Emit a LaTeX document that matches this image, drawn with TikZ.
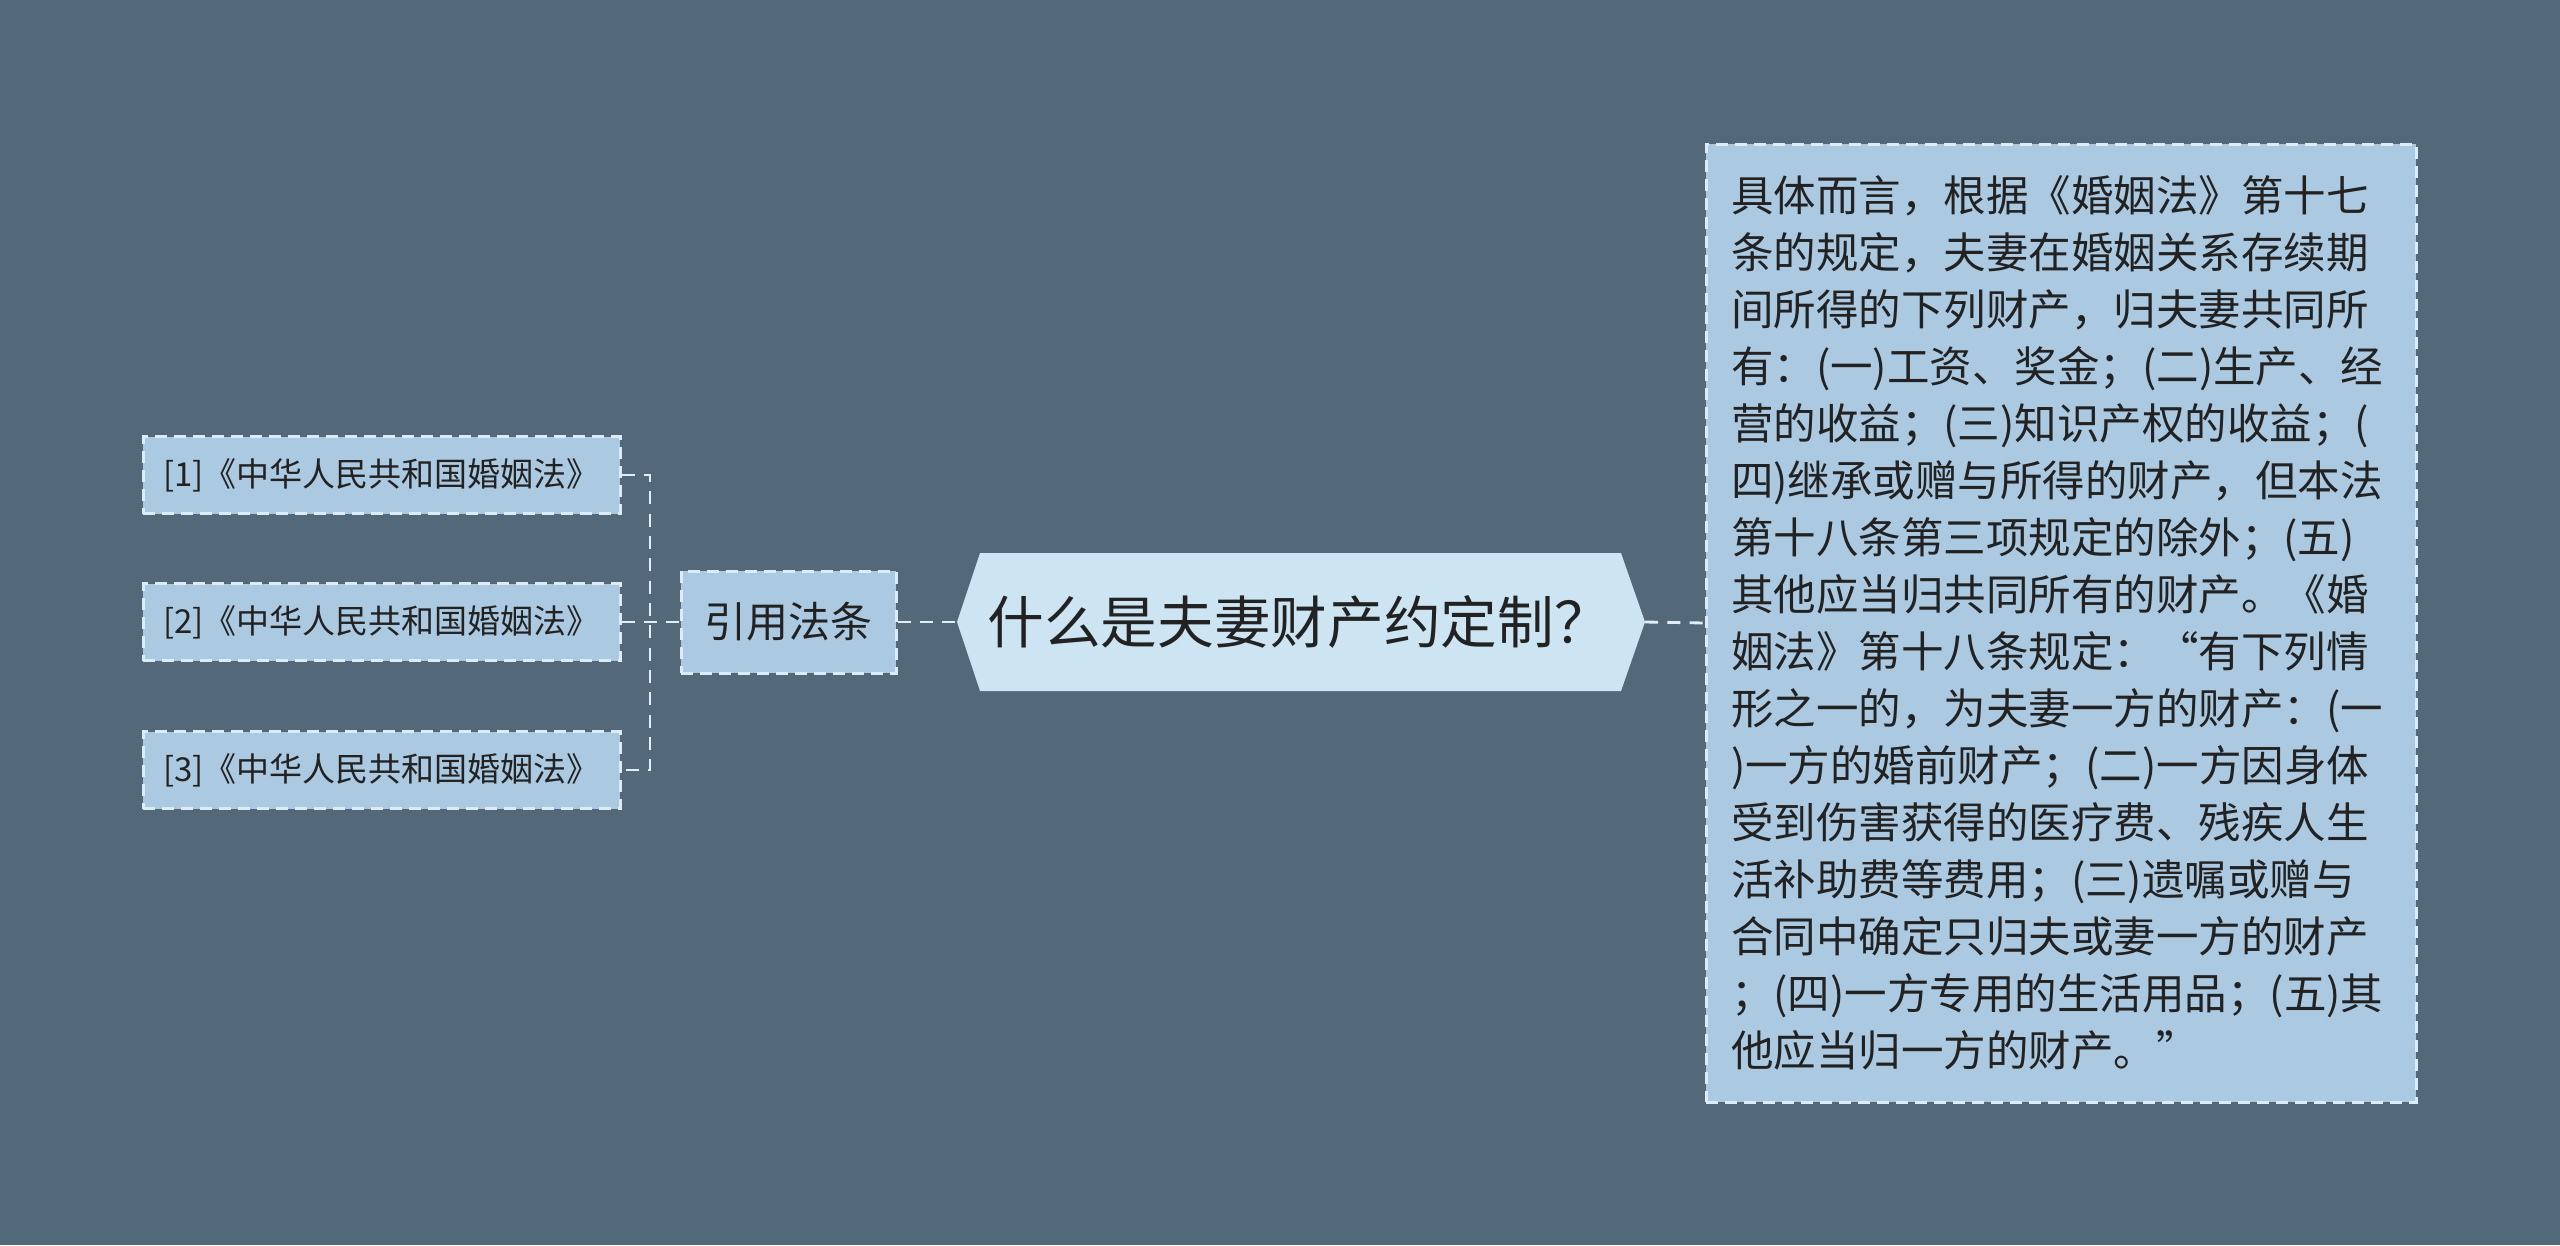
\documentclass[tikz,border=0pt]{standalone}
\usepackage{fontspec}
\newfontfamily\cjk{Noto Sans CJK SC}

\definecolor{bgcol}{RGB}{83,104,120}
\definecolor{leaffill}{RGB}{171,201,225}
\definecolor{topicfill}{RGB}{205,229,242}
\definecolor{edgecol}{RGB}{220,236,247}
\definecolor{linkcol}{RGB}{225,238,248}
\definecolor{inkcol}{RGB}{34,34,34}

\tikzset{every picture/.style={line width=0.9pt}}
\tikzset{
  leafbox/.style={draw=edgecol, fill=leaffill, dash pattern=on 3.6pt off 2.1pt, line width=0.9pt,
    minimum width=143.1pt, minimum height=23.1pt, inner sep=0pt, text=inkcol,
    font=\cjk\fontsize{9.9pt}{12pt}\selectfont},
  citebox/.style={leafbox, minimum width=64.5pt, minimum height=30.6pt,
    font=\cjk\fontsize{12.6pt}{15pt}\selectfont},
  topictext/.style={inner sep=0pt, minimum width=192.3pt, minimum height=41.4pt, text=inkcol,
    font=\cjk\fontsize{17pt}{20pt}\selectfont},
  detailbox/.style={leafbox, minimum width=213pt, minimum height=287.4pt, text width=198pt,
    inner xsep=7.5pt, align=left, font=\cjk\fontsize{12.75pt}{17.1pt}\selectfont},
  link/.style={draw=linkcol, line width=0.85pt, dash pattern=on 3.9pt off 2.8pt}
}

\begin{document}
\begin{tikzpicture}[x=0.3pt,y=0.3pt,yscale=-1,xscale=1]
%Shape: Background
\fill[bgcol] (0,0) rectangle (2560,1245);

%Shape: Hexagon (main topic)
\coordinate (topicL) at (957,622);
\coordinate (topicR) at (1645,622);
\fill[topicfill] (980,553) -- (1621,553) -- (topicR) -- (1621,691) -- (980,691) -- (topicL) -- cycle;
% Text Node
\node[topictext] (topic) at (1299,622) {什么是夫妻财产约定制？};

% Text Node
\node[citebox] (cite) at (788.5,622) {引用法条};

% Text Node
\node[leafbox] (leaf1) at (381.5,475) {[1]《中华人民共和国婚姻法》};
% Text Node
\node[leafbox] (leaf2) at (381.5,622) {[2]《中华人民共和国婚姻法》};
% Text Node
\node[leafbox] (leaf3) at (381.5,770) {[3]《中华人民共和国婚姻法》};

% Text Node
\node[detailbox] (detail) at (2061,623) {具体而言，根据《婚姻法》第十七\\
条的规定，夫妻在婚姻关系存续期\\
间所得的下列财产，归夫妻共同所\\
有：(一)工资、奖金；(二)生产、经\\
营的收益；(三)知识产权的收益；(\\
四)继承或赠与所得的财产，但本法\\
第十八条第三项规定的除外；(五)\\
其他应当归共同所有的财产。《婚\\
姻法》第十八条规定：“有下列情\\
形之一的，为夫妻一方的财产：(一\\
)一方的婚前财产；(二)一方因身体\\
受到伤害获得的医疗费、残疾人生\\
活补助费等费用；(三)遗嘱或赠与\\
合同中确定只归夫或妻一方的财产\\
；(四)一方专用的生活用品；(五)其\\
他应当归一方的财产。”};

%Straight Lines
\coordinate (fork) at (650,622);
\draw[link] (leaf1.east) -| (fork) |- (leaf3.east);
\draw[link] (leaf2.east) -- (cite.west);
\draw[link] (cite.east) -- (topicL);
\draw[link] (topicR) -- (detail.west);

\end{tikzpicture}
\end{document}
